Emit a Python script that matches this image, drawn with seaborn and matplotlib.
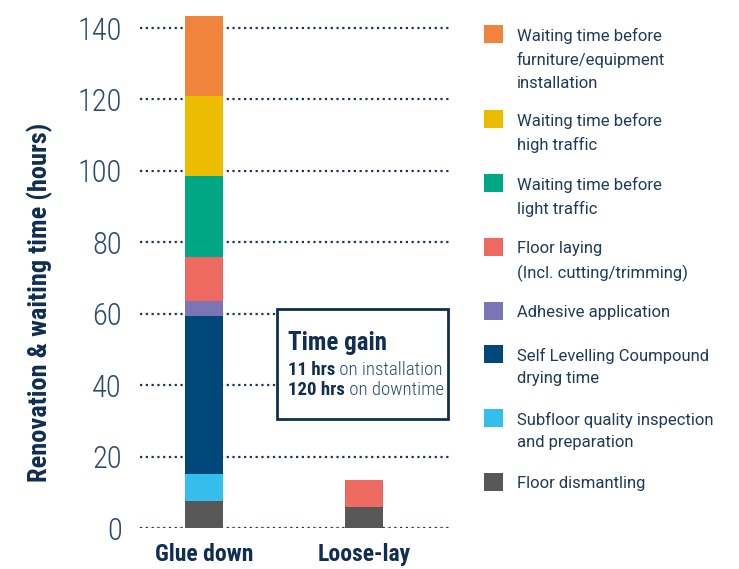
import numpy as np
import pandas as pd
import matplotlib.pyplot as plt
from matplotlib.patches import Rectangle
from matplotlib.text import Annotation
import seaborn as sns

# ---- data ----
methods = ['Glue down', 'Loose-lay']
components = [
    'Waiting time before\nfurniture/equipment\ninstallation',
    'Waiting time before\nhigh traffic',
    'Waiting time before\nlight traffic',
    'Floor laying\n(Incl. cutting/trimming)',
    'Adhesive application',
    'Self Levelling Coumpound\ndrying time',
    'Subfloor quality inspection\nand preparation',
    'Floor dismantling',
]
glue_down = [22.5, 22.5, 22.5, 12.5, 4.0, 44.5, 7.5, 7.5]
loose_lay = [0, 0, 0, 7.75, 0, 0, 0, 5.75]
colors = ['#F0843C', '#EBBC00', '#00A784', '#EE695F',
          '#7B75B5', '#00477A', '#35BDEC', '#575757']

yticks = [0, 20, 40, 60, 80, 100, 120, 140]
ylabel = 'Renovation & waiting time (hours)'
gain_title = 'Time gain'
gain_lines = [('11 hrs', ' on installation'), ('120 hrs', ' on downtime')]

navy = '#0F2E52'
tick_col = '#2B4A6D'
grid_col = '#1C3557'

sns.set_theme(style='white')
plt.rcParams['font.family'] = ['Roboto Condensed', 'Roboto', 'DejaVu Sans']

W, H = 739, 569
fig = plt.figure(figsize=(W / 100, H / 100), dpi=100)

def fx(px):
    return px / W

def fy(px):
    return 1 - px / H

ax = fig.add_axes([fx(140), fy(528), fx(310), 145 * 500 / 140 / H])

hours = pd.DataFrame([glue_down, loose_lay], index=methods, columns=components).T
cum = hours[::-1].cumsum()[::-1]   # height of each layer's top

# draw from the top layer down so lower layers paint over
for comp, col in zip(components, colors):
    sns.barplot(x=methods, y=cum.loc[comp].values, color=col, width=0.24,
                saturation=1, linewidth=0, ax=ax)

ax.set_ylim(0, 145)
ax.set_xlim(-0.4, 1.54)
ax.set_yticks(yticks)
for s in ax.spines.values():
    s.set_visible(False)
ax.set_axisbelow(True)
ax.yaxis.grid(True, color=grid_col, linestyle=(0, (1, 1.6)), linewidth=1.6)
ax.xaxis.grid(False)
ax.tick_params(axis='both', length=0)
ax.tick_params(axis='y', pad=13, labelsize=22, labelcolor=tick_col)
for t in ax.get_yticklabels():
    t.set_fontweight('light')
ax.tick_params(axis='x', pad=11, labelsize=17, labelcolor=navy)
for t in ax.get_xticklabels():
    t.set_fontweight('bold')

ax.set_ylabel(ylabel, fontsize=19, fontweight='bold', color=navy)
ax.yaxis.set_label_coords(-0.281, 0.436)

# time gain box
box = Rectangle((fx(277), fy(419)), fx(171), 110 / H, transform=fig.transFigure,
                facecolor='white', edgecolor=navy, linewidth=2, zorder=3)
fig.add_artist(box)
fig.text(fx(288), fy(350), gain_title, fontsize=18, fontweight='bold',
         color=navy, va='baseline', zorder=4)
for (b, rest), base in zip(gain_lines, [375, 395]):
    t = fig.text(fx(288), fy(base), b, fontsize=13.5, fontweight='bold',
                 color=navy, va='baseline', zorder=4)
    a = Annotation(rest, xy=(1, 0), xycoords=t, fontsize=13.5, color=tick_col,
                   fontweight='light', va='bottom', ha='left',
                   annotation_clip=False, zorder=4)
    fig.add_artist(a)

# legend, top to bottom
top = 25
for comp, col in zip(components, colors):
    n = comp.count('\n') + 1
    fig.add_artist(Rectangle((fx(484), fy(top + 18)), fx(19), 18 / H,
                             transform=fig.transFigure, facecolor=col,
                             edgecolor='none'))
    fig.text(fx(517), fy(top + 3), comp, fontsize=12, color='#1E3A5C',
             family=['Roboto', 'DejaVu Sans'],
             va='top', ha='left', linespacing=1.62)
    top += 22 + 21 * n

fig.savefig('out.png', dpi=100)
